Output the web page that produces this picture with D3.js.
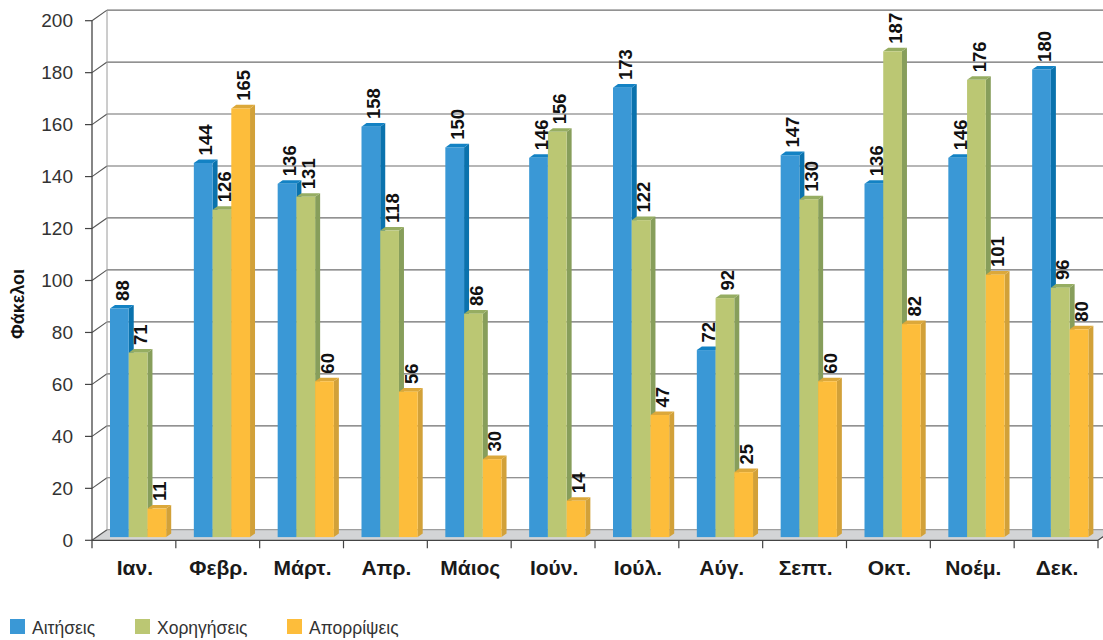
<!DOCTYPE html>
<html>
<head>
<meta charset="utf-8">
<script src="https://cdn.jsdelivr.net/npm/d3@7"></script>
<style>
  html, body { margin: 0; padding: 0; background: #fff; }
  svg { display: block; }
</style>
</head>
<body>
<svg id="chart" width="1103" height="640"></svg>
<script>
// Monthly figures (files) per series
const months = ["Ιαν.", "Φεβρ.", "Μάρτ.", "Απρ.", "Μάιος", "Ιούν.", "Ιούλ.", "Αύγ.", "Σεπτ.", "Οκτ.", "Νοέμ.", "Δεκ."];
const seriesNames = ["Αιτήσεις", "Χορηγήσεις", "Απορρίψεις"];
const aitiseis   = [88, 144, 136, 158, 150, 146, 173, 72, 147, 136, 146, 180];
const chorigiseis = [71, 126, 131, 118, 86, 156, 122, 92, 130, 187, 176, 96];
const aporripseis = [11, 165, 60, 56, 30, 14, 47, 25, 60, 82, 101, 80];
const yTicks = [0, 20, 40, 60, 80, 100, 120, 140, 160, 180, 200];
const yTitle = "Φάκελοι";

const seriesValues = [aitiseis, chorigiseis, aporripseis];
const palette = [
  { front: "#3a98d6", side: "#0a72ad", top: "#1382c4" },
  { front: "#bbc773", side: "#879e5b", top: "#96ad62" },
  { front: "#fdbd3b", side: "#d2a139", top: "#dca83a" }
];

const svg = d3.select("#chart");
const font = "'Liberation Sans', Arial, sans-serif";

// Geometry of the 3D frame
const left = 92, right = 1098;
const DX = 15, DY = 10.6;          // wall depth offset
const barDepthPos = 0.3;           // bars sit 30% into the depth
const barDX = 5, barDY = 3.6;      // bar thickness

const x = d3.scaleBand().domain(months).range([left, right]).padding(0);
const y = d3.scaleLinear().domain([0, 200]).range([540.3, 20.7]);
const xs = d3.scaleBand().domain(seriesNames).range([13.5, 13.5 + 56.2]).padding(0);

const gWall = svg.append("g");

// Floor
gWall.append("path")
  .attr("d", `M${left},${y(0)} L${right},${y(0)} L${right + DX},${y(0) - DY} L${left + DX},${y(0) - DY} Z`)
  .attr("fill", "#d3d4d6");
gWall.append("line")
  .attr("x1", left + DX).attr("x2", right + DX)
  .attr("y1", y(0) - DY).attr("y2", y(0) - DY)
  .attr("stroke", "#8a8a8a").attr("stroke-width", 1);

// Back-wall gridlines and left-wall diagonals
yTicks.forEach(t => {
  const yy = y(t);
  if (t > 0) {
    gWall.append("line")
      .attr("x1", left + DX).attr("x2", 1103)
      .attr("y1", yy - DY).attr("y2", yy - DY)
      .attr("stroke", "#6e6e6e").attr("stroke-width", 1.2);
  }
  gWall.append("line")
    .attr("x1", left).attr("x2", left + DX)
    .attr("y1", yy).attr("y2", yy - DY)
    .attr("stroke", "#555").attr("stroke-width", 1.1);
  gWall.append("line")
    .attr("x1", left - 7).attr("x2", left)
    .attr("y1", yy).attr("y2", yy)
    .attr("stroke", "#444").attr("stroke-width", 1.2);
});
// Back wall left edge
gWall.append("line")
  .attr("x1", left + DX).attr("x2", left + DX)
  .attr("y1", y(200) - DY).attr("y2", y(0) - DY)
  .attr("stroke", "#9a9a9a").attr("stroke-width", 1);
// Front axis lines
gWall.append("line")
  .attr("x1", left).attr("x2", left)
  .attr("y1", y(200)).attr("y2", y(0) + 8)
  .attr("stroke", "#444").attr("stroke-width", 1.3);
gWall.append("line")
  .attr("x1", left).attr("x2", right)
  .attr("y1", y(0)).attr("y2", y(0))
  .attr("stroke", "#444").attr("stroke-width", 1.3);
gWall.append("line")
  .attr("x1", right).attr("x2", right + DX)
  .attr("y1", y(0)).attr("y2", y(0) - DY)
  .attr("stroke", "#444").attr("stroke-width", 1.1);
// Category ticks
months.forEach((m, i) => {
  const xx = x(m) + x.bandwidth();
  gWall.append("line")
    .attr("x1", xx).attr("x2", xx)
    .attr("y1", y(0)).attr("y2", y(0) + 8)
    .attr("stroke", "#444").attr("stroke-width", 1.2);
});

// Y tick labels
svg.append("g").selectAll("text").data(yTicks).join("text")
  .attr("x", 73).attr("y", d => y(d))
  .attr("dy", "0.35em")
  .attr("text-anchor", "end")
  .attr("font-family", font).attr("font-size", 19)
  .attr("fill", "#333")
  .text(d => d);

// Y title
svg.append("text")
  .attr("transform", "translate(24,304) rotate(-90)")
  .attr("text-anchor", "middle")
  .attr("font-family", font).attr("font-size", 18).attr("font-weight", "bold")
  .attr("fill", "#111")
  .text(yTitle);

// X labels
svg.append("g").selectAll("text").data(months).join("text")
  .attr("x", d => x(d) + x.bandwidth() / 2 + 1)
  .attr("y", 575)
  .attr("text-anchor", "middle")
  .attr("font-family", font).attr("font-size", 21).attr("font-weight", "bold")
  .attr("fill", "#1a1a1a")
  .text(d => d);

// Bars (drawn series by series within each month, so later bars overlap earlier sides)
const shiftX = barDepthPos * DX, shiftY = barDepthPos * DY;
const base = y(0) - shiftY;
const gBars = svg.append("g");
const gLabels = svg.append("g");
const bw = xs.bandwidth();

months.forEach((m, i) => {
  seriesNames.forEach((s, k) => {
    const v = seriesValues[k][i];
    const c = palette[k];
    const x0 = x(m) + xs(s) + shiftX;
    const top = y(v) - shiftY;
    const g = gBars.append("g");
    // side face
    g.append("path")
      .attr("d", `M${x0 + bw},${base} L${x0 + bw},${top} L${x0 + bw + barDX},${top - barDY} L${x0 + bw + barDX},${base - barDY} Z`)
      .attr("fill", c.side);
    // top face
    g.append("path")
      .attr("d", `M${x0},${top} L${x0 + bw},${top} L${x0 + bw + barDX},${top - barDY} L${x0 + barDX},${top - barDY} Z`)
      .attr("fill", c.top);
    // front face
    g.append("rect")
      .attr("x", x0).attr("y", top)
      .attr("width", bw).attr("height", base - top)
      .attr("fill", c.front);

    gLabels.append("text")
      .attr("transform", `translate(${x0 + bw / 2 + barDX / 2},${top - barDY - 4}) rotate(-90)`)
      .attr("text-anchor", "start")
      .attr("dy", "0.36em")
      .attr("font-family", font).attr("font-size", 18.5).attr("font-weight", "bold")
      .attr("fill", "#111")
      .text(v);
  });
});

// Legend
const legendX = [10, 135, 287];
const gLeg = svg.append("g");
seriesNames.forEach((s, k) => {
  gLeg.append("rect")
    .attr("x", legendX[k]).attr("y", 619)
    .attr("width", 15).attr("height", 15)
    .attr("fill", palette[k].front);
  gLeg.append("text")
    .attr("x", legendX[k] + 22).attr("y", 634)
    .attr("font-family", font).attr("font-size", 17.5)
    .attr("fill", "#333")
    .text(s);
});
</script>
</body>
</html>
